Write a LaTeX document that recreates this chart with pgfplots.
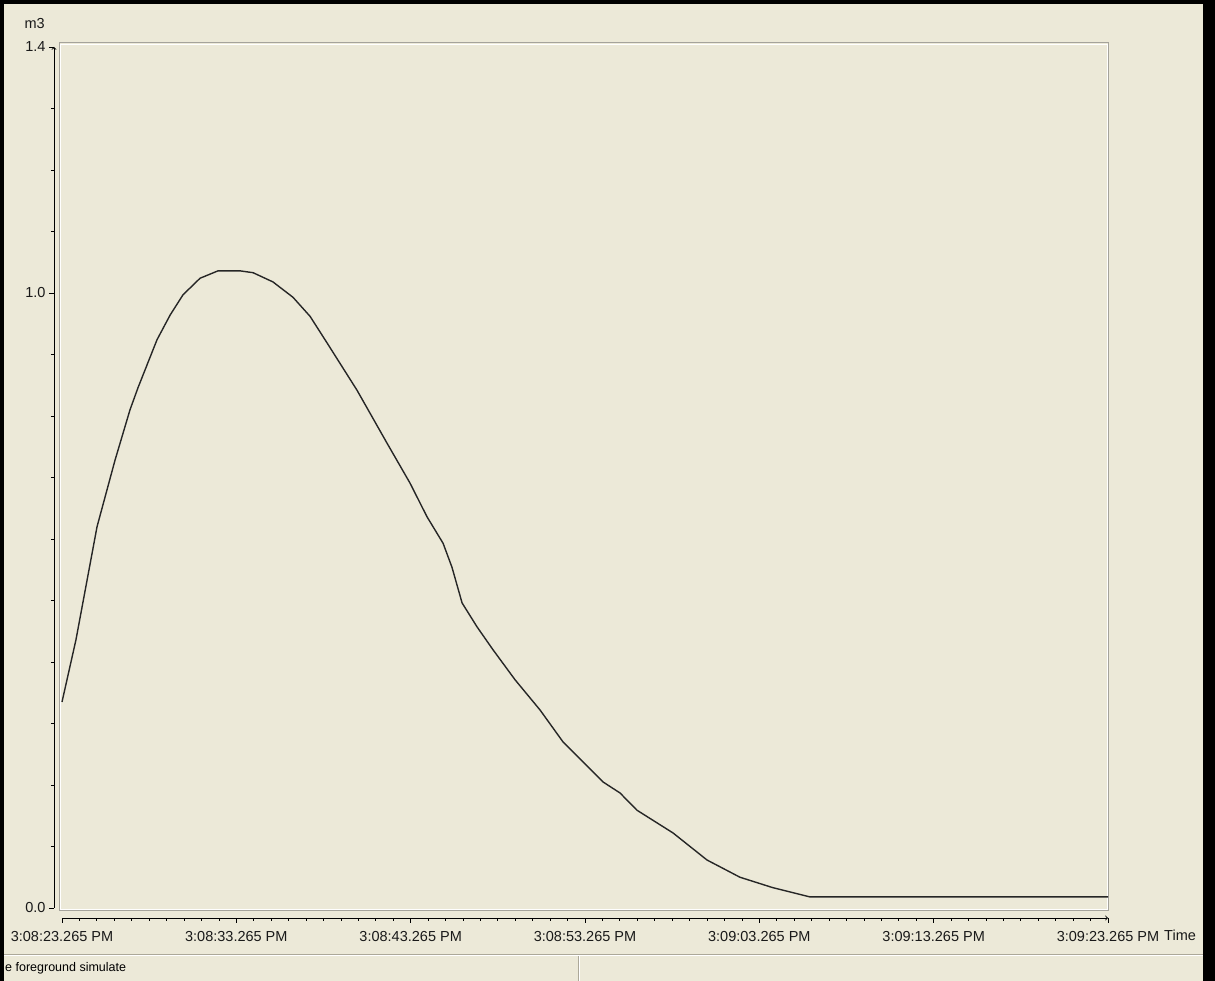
\documentclass[border=0pt]{standalone}
\usepackage{fontspec}
\setmainfont{Liberation Sans}
\usepackage{pgfplots}
\pgfplotsset{compat=1.18}
\definecolor{xpbg}{RGB}{236,233,216}
\definecolor{xpline}{RGB}{172,168,153}
\definecolor{boxgray}{RGB}{165,163,155}
\begin{document}
\begin{tikzpicture}[x=1pt,y=1pt]
\useasboundingbox (0,0) rectangle (1215,981);
\fill[xpbg] (0,0) rectangle (1215,981);
% plot box
\draw[boxgray,line width=1pt] (59,70) rectangle (1108.5,938);
\draw[white,line width=0.8pt] (60.2,71.2) rectangle (1107.3,936.8);
% curve
\begin{axis}[
  at={(62pt,73pt)}, anchor=south west,
  width=1046pt, height=861pt, scale only axis,
  xmin=0, xmax=60, ymin=0, ymax=1.4,
  axis lines=none, clip=false]
\addplot[black!85, line width=1.4pt, line join=round] coordinates {
(0.00,0.335) (0.80,0.436) (2.01,0.620) (3.04,0.728) (3.90,0.810)
(4.36,0.846) (5.45,0.924) (6.20,0.964) (6.94,0.997) (7.92,1.024)
(8.95,1.036) (10.21,1.036) (10.96,1.033) (12.10,1.018) (13.25,0.993)
(14.23,0.962) (15.20,0.919) (16.92,0.842) (18.64,0.756) (19.96,0.691)
(20.94,0.636) (21.86,0.593) (22.37,0.554) (22.95,0.496) (23.81,0.457)
(24.72,0.420) (25.99,0.371) (27.42,0.322) (28.74,0.270) (31.03,0.205)
(32.01,0.187) (32.98,0.159) (35.05,0.122) (37.00,0.078) (38.89,0.050)
(40.78,0.033) (42.91,0.018) (60.00,0.018)
};
\end{axis}
% y axis
\begin{axis}[
  at={(54pt,73pt)}, anchor=south west,
  width=1046pt, height=861pt, scale only axis,
  xmin=0, xmax=60, ymin=0, ymax=1.4,
  axis x line=none, axis y line=left,
  y axis line style={black, line width=0.9pt, ->},
  tick align=outside, major tick length=5pt, minor tick length=3pt,
  every tick/.style={black, line width=0.8pt},
  ytick={0,1,1.4}, yticklabels={0.0,1.0,1.4},
  minor ytick={0.1,0.2,0.3,0.4,0.5,0.6,0.7,0.8,0.9,1.1,1.2,1.3},
  yticklabel style={font=\fontsize{14.5}{17}\selectfont, text=black!90}]
\end{axis}
% x axis
\begin{axis}[
  at={(62pt,63pt)}, anchor=south west,
  width=1046pt, height=861pt, scale only axis,
  xmin=0, xmax=60, ymin=0, ymax=1.4,
  axis y line=none, axis x line=bottom,
  x axis line style={black, line width=0.9pt, ->},
  tick align=outside, major tick length=5pt, minor tick length=3pt,
  every tick/.style={black, line width=0.8pt},
  xtick={0,10,20,30,40,50,60},
  xticklabels={3:08:23.265 PM,3:08:33.265 PM,3:08:43.265 PM,3:08:53.265 PM,3:09:03.265 PM,3:09:13.265 PM,3:09:23.265 PM},
  minor x tick num=9,
  xticklabel style={font=\fontsize{14.5}{17}\selectfont, text=black!90, yshift=-5pt}]
\end{axis}
\node[anchor=base west, inner sep=0pt, font=\fontsize{14.5}{17}\selectfont, text=black!90] at (1164,40) {Time};
\node[anchor=base east, inner sep=0pt, font=\fontsize{14.5}{17}\selectfont, text=black!90] at (45,952) {m3};
% status bar
\draw[xpline,line width=1pt] (0,26) -- (1215,26);
\draw[white,line width=1pt] (0,25) -- (1215,25);
\draw[xpline,line width=1pt] (578,0) -- (578,25);
\draw[white,line width=1pt] (579,0) -- (579,25);
\node[anchor=base west, inner sep=0pt, font=\fontsize{12.5}{15}\selectfont, text=black] at (5,9) {e foreground simulate};
% frame
\fill[black] (0,0) rectangle (4,981);
\fill[black] (0,977) rectangle (1215,981);
\fill[black] (1203,0) rectangle (1215,981);
\end{tikzpicture}
\end{document}
